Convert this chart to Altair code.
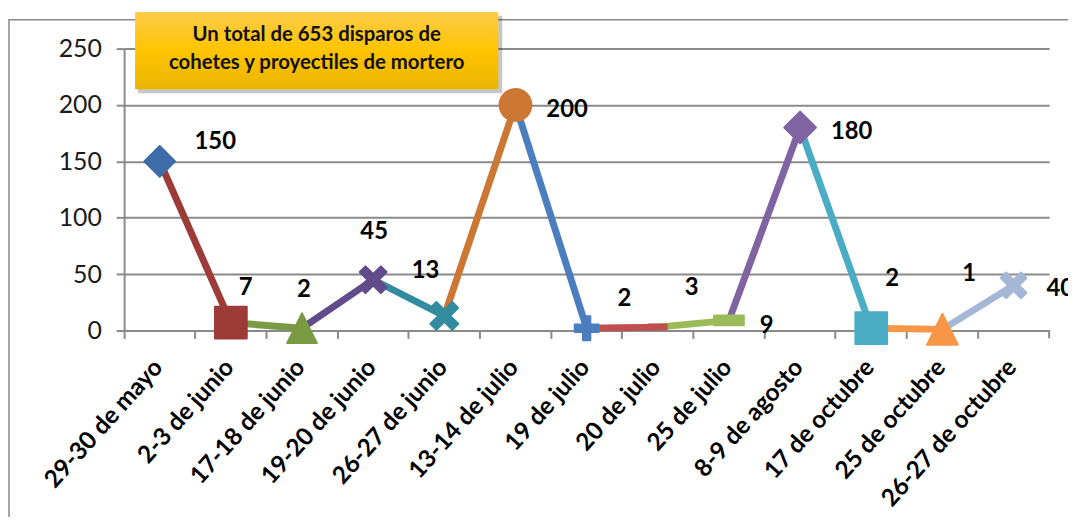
import math
import altair as alt
import pandas as pd

# ---------------- data ----------------
categories = ["29-30 de mayo", "2-3 de junio", "17-18 de junio", "19-20 de junio",
              "26-27 de junio", "13-14 de julio", "19 de julio", "20 de julio",
              "25 de julio", "8-9 de agosto", "17 de octubre", "25 de octubre",
              "26-27 de octubre"]
values = [150, 7, 2, 45, 13, 200, 2, 3, 9, 180, 2, 1, 40]
y_ticks = [0, 50, 100, 150, 200, 250]
box_lines = ["Un total de 653 disparos de", "cohetes y proyectiles de mortero"]

# ---------------- styles ----------------
point_colors = ["#3D6CA8", "#9C3B38", "#7A9A43", "#624B8A", "#328C9F", "#CC7733",
                "#4A7EBF", "#C0504D", "#9BBB59", "#8064A2", "#4BACC6", "#F79646",
                "#A5B7D6"]


def plus_path(a, angle=0.0):
    pts = [(-a, -1), (a, -1), (a, -a), (1, -a), (1, a), (a, a), (a, 1), (-a, 1),
           (-a, a), (-1, a), (-1, -a), (-a, -a)]
    c, s = math.cos(angle), math.sin(angle)
    rot = [(x * c - y * s, x * s + y * c) for x, y in pts]
    m = max(max(abs(x), abs(y)) for x, y in rot)
    rot = [(x / m, y / m) for x, y in rot]
    return "M" + "L".join(f"{x:.4f},{y:.4f}" for x, y in rot) + "Z"


DIAMOND = "M0,-1L1,0L0,1L-1,0Z"
SQUARE = "M-1,-1L1,-1L1,1L-1,1Z"
TRIANGLE = "M0,-1L1,1L-1,1Z"
XMARK = plus_path(0.27, math.pi / 4)
PLUS = plus_path(0.31)
DASH_S = "M-1,-0.28L1,-0.28L1,0.28L-1,0.28Z"
DASH_L = "M-1,-0.33L1,-0.33L1,0.33L-1,0.33Z"
marker_shapes = [DIAMOND, SQUARE, TRIANGLE, XMARK, XMARK, "circle", PLUS, DASH_S,
                 DASH_L, DIAMOND, SQUARE, TRIANGLE, XMARK]
marker_sizes = [961, 1024, 900, 729, 784, 1024, 576, 324, 900, 1024, 1024, 961, 676]
label_dx = [56, 15, 2, 1, -19, 52, 38, 34, 38, 52, 21, 27, 47]
label_dy = [-20, -36, -39, -49, -46, 4, -30, -40, 5, 4, -51, -57, 3]

W, H = 932, 284
GRAY = "#8a8a8a"
FONT = "Lato"

pts = pd.DataFrame({"cat": categories, "val": values, "idx": list(range(len(values))),
                    "msize": marker_sizes})

seg_rows = []
for i in range(1, len(values)):
    for j in (i - 1, i):
        seg_rows.append({"seg": i, "cat": categories[j], "val": values[j],
                         "ckey": categories[i]})
segs = pd.DataFrame(seg_rows)

x_scale = alt.Scale(type="band", domain=categories, paddingInner=0, paddingOuter=0)
y_scale = alt.Scale(domain=[0, 250], nice=False, zero=True)
color_scale = alt.Scale(domain=categories, range=point_colors)
shape_scale = alt.Scale(domain=categories, range=marker_shapes)

x_axis = alt.Axis(title=None, bandPosition=0, labelOffset=-1, labelAngle=-48,
                  labelAlign="right", labelBaseline="middle", labelFont=FONT,
                  labelFontSize=24.5, labelFontWeight="bold", labelColor="#000000",
                  labelPadding=25, labelLimit=400, labelOverlap=False,
                  tickSize=8, tickWidth=2, tickColor=GRAY, domainColor=GRAY,
                  domainWidth=2, grid=False)
y_axis = alt.Axis(title=None, values=y_ticks, grid=True, gridColor=GRAY, gridWidth=2,
                  labelFont=FONT, labelFontSize=25, labelColor="#1a1a1a",
                  labelPadding=15, tickSize=8, tickWidth=2, tickColor=GRAY,
                  domainColor=GRAY, domainWidth=2)


def X():
    return alt.X("cat:N", scale=x_scale, axis=x_axis)


def Y():
    return alt.Y("val:Q", scale=y_scale, axis=y_axis)


dummy = pd.DataFrame({"k": [0]})

frame = alt.Chart(dummy).mark_rect(filled=False, stroke=GRAY, strokeWidth=1.5).encode(
    x=alt.value(-116), x2=alt.value(W + 300), y=alt.value(-29), y2=alt.value(H + 400))

shadow = alt.Chart(dummy).mark_rect(color="#000000", opacity=0.22).encode(
    x=alt.value(14), x2=alt.value(381), y=alt.value(-33), y2=alt.value(45))

box = alt.Chart(dummy).mark_rect(
    fill=alt.Gradient(gradient="linear",
                      stops=[alt.GradientStop(color="#FFCC4A", offset=0),
                             alt.GradientStop(color="#FFC400", offset=0.5),
                             alt.GradientStop(color="#E9B500", offset=1)],
                      x1=0, x2=0, y1=0, y2=1)).encode(
    x=alt.value(11), x2=alt.value(377), y=alt.value(-37), y2=alt.value(41))

box_text = [alt.Chart(dummy).mark_text(text=t, font=FONT, fontSize=20.5, fontWeight="bold",
                                       color="#111111", align="center", baseline="middle")
            .encode(x=alt.value(194), y=alt.value(yy))
            for t, yy in zip(box_lines, [-14, 15])]

last_tick = alt.Chart(dummy).mark_rule(color=GRAY, strokeWidth=2).encode(
    x=alt.value(W), y=alt.value(H), y2=alt.value(H + 8))

lines = alt.Chart(segs).mark_line(strokeWidth=7, strokeJoin="round").encode(
    x=X(), y=Y(),
    detail="seg:N",
    color=alt.Color("ckey:N", scale=color_scale, legend=None),
)

markers = alt.Chart(pts).mark_point(filled=True, opacity=1, strokeWidth=2,
                                    strokeJoin="round").encode(
    x=X(), y=Y(),
    color=alt.Color("cat:N", scale=color_scale, legend=None),
    stroke=alt.Stroke("cat:N", scale=color_scale, legend=None),
    shape=alt.Shape("cat:N", scale=shape_scale, legend=None),
    size=alt.Size("msize:Q", scale=None),
)

labels = []
for i in range(len(values)):
    labels.append(
        alt.Chart(pts).transform_filter(alt.datum.idx == i)
        .mark_text(font=FONT, fontSize=24, fontWeight="bold", color="#000000",
                   align="center", baseline="alphabetic", dx=label_dx[i], dy=label_dy[i] + 8)
        .encode(x=X(), y=Y(), text=alt.Text("val:Q"))
    )

chart = alt.layer(lines, frame, shadow, box, *box_text, last_tick, markers, *labels).properties(
    width=W, height=H,
    autosize=alt.AutoSizeParams(type="none"),
    padding={"left": 117, "top": 39, "right": 19, "bottom": 186},
    background="#ffffff",
).configure_view(stroke=None)

chart.save("out.html", embed_options={"renderer": "svg", "actions": False})
